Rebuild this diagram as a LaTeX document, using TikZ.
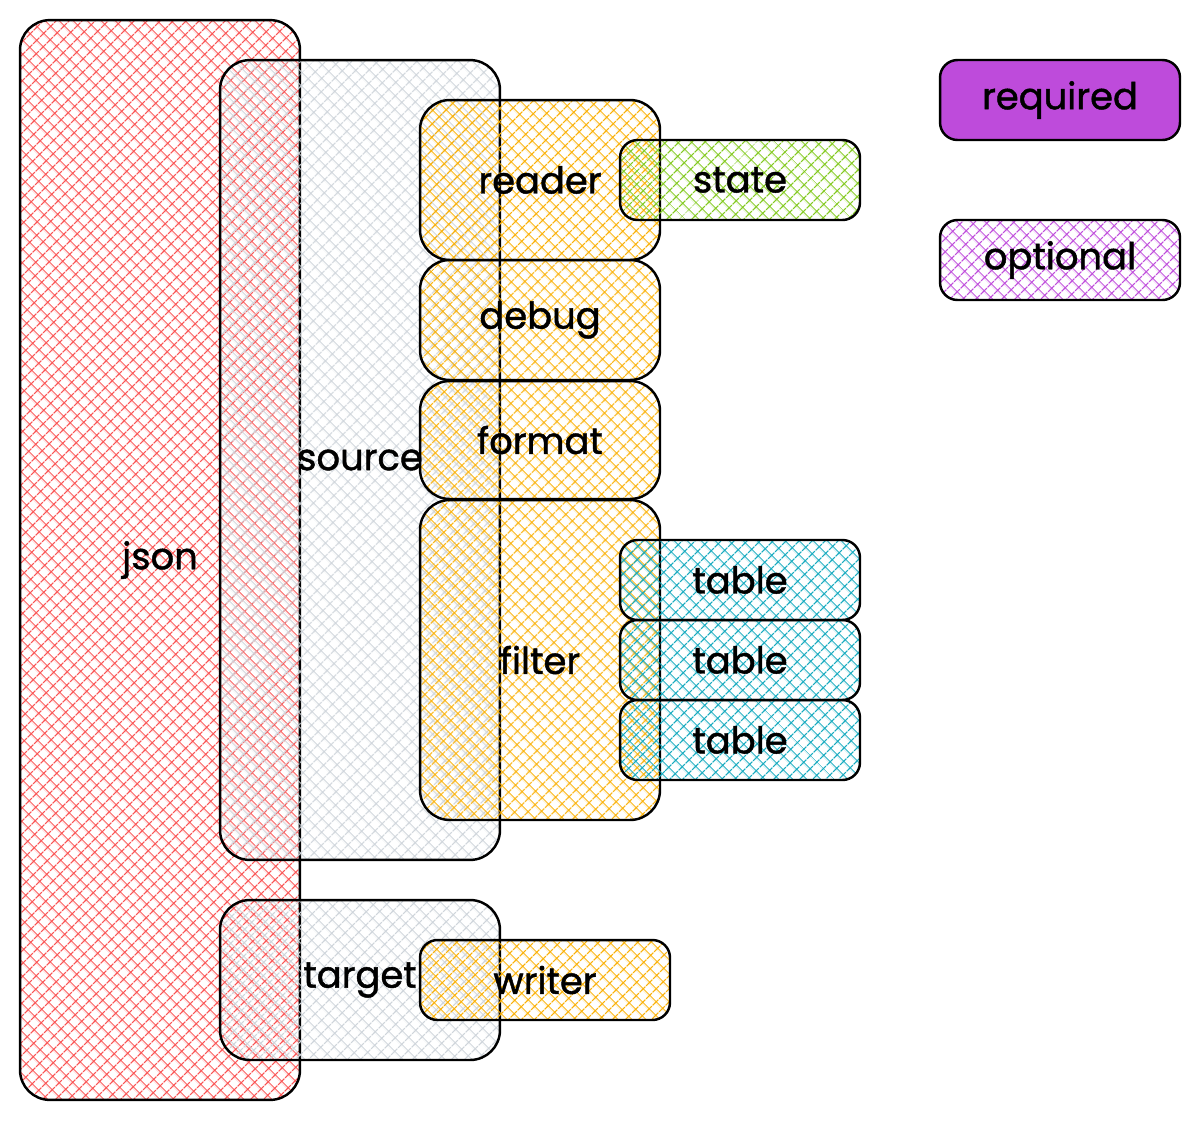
\documentclass[tikz,border=0pt]{standalone}
\usepackage{fontspec}
\setmainfont{Poppins}[FakeBold=1.2,AutoFakeBold=1.2]
\usetikzlibrary{patterns.meta}
\definecolor{exred}{HTML}{FA5252}
\definecolor{exgrey}{HTML}{CED4DA}
\definecolor{exorange}{HTML}{FAB005}
\definecolor{exgreen}{HTML}{82C91E}
\definecolor{exteal}{HTML}{15AABF}
\definecolor{expurple}{HTML}{BE4BDB}
\tikzset{
  bigbox/.style={draw=black, line width=1.4pt, rounded corners=17pt, inner sep=0pt, font=\fontsize{21}{24}\selectfont\bfseries},
  smallbox/.style={bigbox, rounded corners=10pt, minimum width=4.8cm, minimum height=1.6cm},
  hatch/.style={pattern={Hatch[angle=45,distance=5.4pt,line width=0.75pt]}, pattern color=#1}
}
\begin{document}
\begin{tikzpicture}[x=0.02cm,y=-0.02cm]
  \useasboundingbox (0,0) rectangle (1200,1120);
  \node[bigbox, hatch=exred, minimum width=5.6cm, minimum height=21.6cm] (json) at (160,560) {json};
  \node[bigbox, hatch=exgrey, minimum width=5.6cm, minimum height=16cm] (source) at (360,460) {source};
  \node[bigbox, hatch=exorange, minimum width=4.8cm, minimum height=3.2cm] (reader) at (540,180) {reader};
  \node[smallbox, hatch=exgreen] (state) at (740,180) {state};
  \node[bigbox, hatch=exorange, minimum width=4.8cm, minimum height=2.4cm] (debug) at (540,320) {debug};
  \node[bigbox, hatch=exorange, minimum width=4.8cm, minimum height=2.36cm] (format) at (540,440) {format};
  \node[bigbox, hatch=exorange, minimum width=4.8cm, minimum height=6.4cm] (filter) at (540,660) {filter};
  \foreach \y [count=\i] in {580,660,740}
    \node[smallbox, hatch=exteal] (table\i) at (740,\y) {table};
  \node[bigbox, hatch=exgrey, minimum width=5.6cm, minimum height=3.2cm] (target) at (360,980) {target};
  \node[smallbox, hatch=exorange, minimum width=5cm] (writer) at (545,980) {writer};
  \node[smallbox, fill=expurple] (required) at (1060,100) {required};
  \node[smallbox, hatch=expurple] (optional) at (1060,260) {optional};
\end{tikzpicture}
\end{document}
